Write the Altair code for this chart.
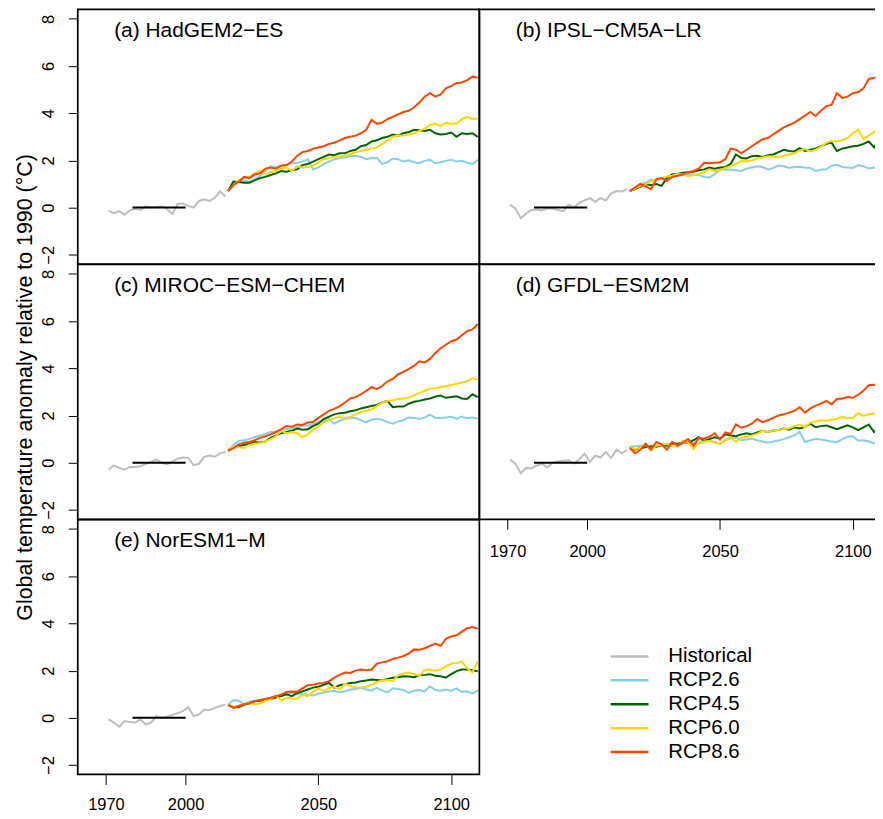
import altair as alt
import pandas as pd

# ---------------- data ----------------
HIST_YEARS = list(range(1971, 2016, 2))   # 23 points
RCP_YEARS = list(range(2016, 2111, 2))    # 48 points

MODELS = ["(a) HadGEM2\u2212ES", "(b) IPSL\u2212CM5A\u2212LR", "(c) MIROC\u2212ESM\u2212CHEM",
          "(d) GFDL\u2212ESM2M", "(e) NorESM1\u2212M"]
SCENARIOS = ["Historical", "RCP2.6", "RCP4.5", "RCP6.0", "RCP8.6"]
COLORS = ["#BEBEBE", "#87CEEB", "#006400", "#FFD700", "#FF4500"]
BASE_PERIOD = [1980, 2000]
Y_TICKS = [-2, 0, 2, 4, 6, 8]
X_TICKS = [1970, 2000, 2050, 2100]
Y_TITLE = "Global temperature anomaly relative to 1990 (\u00b0C)"

HAD_HIST = [-0.14, -0.24, -0.15, -0.30, -0.12, -0.05, -0.10, 0.05, 0.00, 0.03, 0.05, -0.05,
            -0.28, 0.15, 0.17, 0.07, 0.00, 0.28, 0.35, 0.28, 0.42, 0.68, 0.47]
HAD_26 = [0.70, 1.05, 1.10, 1.15, 1.10, 1.20, 1.35, 1.55,
          1.75, 1.72, 1.75, 1.80, 1.88, 1.90, 1.95, 2.05,
          1.62, 1.70, 1.85, 1.95, 2.05, 2.10, 2.12, 2.18,
          2.20, 2.15, 2.05, 2.10, 2.10, 1.85, 1.92, 2.08,
          2.05, 1.95, 2.00, 1.92, 1.88, 1.98, 2.02, 1.88,
          1.92, 1.98, 2.03, 1.95, 1.98, 1.90, 1.85, 2.02]
HAD_45 = [0.70, 1.10, 1.08, 1.05, 1.05, 1.15, 1.25, 1.30,
          1.38, 1.45, 1.55, 1.52, 1.58, 1.62, 1.80, 1.85,
          1.95, 2.05, 2.15, 2.25, 2.22, 2.30, 2.30, 2.40,
          2.45, 2.60, 2.65, 2.80, 2.85, 2.95, 3.00, 3.10,
          3.05, 3.15, 3.20, 3.30, 3.28, 3.25, 3.30, 3.15,
          3.10, 3.12, 3.18, 3.00, 3.15, 3.12, 3.15, 3.00]
HAD_60 = [0.70, 0.95, 1.15, 1.25, 1.30, 1.45, 1.55, 1.40,
          1.50, 1.55, 1.65, 1.70, 1.55, 1.75, 1.70, 1.72,
          1.78, 1.90, 2.05, 2.10, 2.15, 2.15, 2.20, 2.25,
          2.35, 2.40, 2.45, 2.50, 2.55, 2.70, 2.85, 3.00,
          3.05, 3.05, 3.10, 3.15, 3.25, 3.35, 3.50, 3.55,
          3.45, 3.60, 3.55, 3.55, 3.75, 3.85, 3.75, 3.78]
HAD_85 = [0.70, 0.95, 1.10, 1.30, 1.25, 1.40, 1.45, 1.65,
          1.70, 1.65, 1.78, 1.80, 1.95, 2.20, 2.35, 2.40,
          2.50, 2.55, 2.60, 2.70, 2.75, 2.85, 2.95, 3.00,
          3.05, 3.15, 3.30, 3.72, 3.55, 3.60, 3.75, 3.85,
          3.95, 4.05, 4.10, 4.25, 4.45, 4.70, 4.85, 4.70,
          4.80, 5.05, 5.15, 5.28, 5.30, 5.40, 5.55, 5.50]

IPSL_HIST = [0.12, -0.05, -0.45, -0.25, -0.10, -0.08, -0.12, -0.03, -0.05, -0.10, -0.15, 0.12,
             0.00, 0.20, 0.30, 0.40, 0.25, 0.40, 0.30, 0.60, 0.70, 0.68, 0.78]
IPSL_26 = [0.70, 0.85, 1.00, 1.05, 1.20, 1.15, 1.22, 1.25,
           1.40, 1.35, 1.38, 1.42, 1.40, 1.38, 1.30, 1.28,
           1.42, 1.60, 1.62, 1.60, 1.58, 1.55, 1.65, 1.70,
           1.75, 1.72, 1.62, 1.68, 1.78, 1.75, 1.68, 1.72,
           1.72, 1.70, 1.68, 1.55, 1.60, 1.62, 1.78, 1.82,
           1.72, 1.70, 1.68, 1.80, 1.75, 1.66, 1.70, 1.62]
IPSL_45 = [0.70, 0.78, 0.88, 1.00, 0.95, 1.00, 0.92, 1.25,
           1.40, 1.42, 1.48, 1.50, 1.52, 1.58, 1.62, 1.70,
           1.65, 1.70, 1.72, 1.85, 2.25, 2.10, 2.08, 2.18,
           2.20, 2.15, 2.22, 2.25, 2.35, 2.45, 2.40, 2.38,
           2.52, 2.40, 2.45, 2.50, 2.60, 2.70, 2.75, 2.40,
           2.50, 2.55, 2.60, 2.62, 2.70, 2.80, 2.55, 2.95]
IPSL_60 = [0.70, 0.80, 0.92, 1.00, 1.10, 1.20, 1.25, 1.32,
           1.35, 1.42, 1.40, 1.33, 1.38, 1.42, 1.50, 1.62,
           1.55, 1.58, 1.68, 1.75, 1.85, 1.97, 1.95, 2.00,
           2.08, 2.12, 2.18, 2.15, 2.12, 2.20, 2.25, 2.30,
           2.42, 2.48, 2.38, 2.45, 2.58, 2.75, 2.82, 2.80,
           2.85, 2.95, 3.15, 3.30, 2.90, 3.05, 3.20, 3.38]
IPSL_85 = [0.70, 0.85, 1.00, 0.90, 0.78, 1.20, 1.25, 1.12,
           1.30, 1.35, 1.40, 1.50, 1.55, 1.65, 1.90, 1.88,
           1.90, 1.92, 2.05, 2.50, 2.45, 2.30, 2.45, 2.60,
           2.75, 2.90, 2.95, 3.10, 3.25, 3.40, 3.50, 3.60,
           3.75, 3.90, 4.05, 3.88, 4.10, 4.30, 4.35, 4.85,
           4.65, 4.70, 4.85, 4.90, 5.05, 5.45, 5.50, 5.58]

MIROC_HIST = [-0.30, -0.12, -0.22, -0.30, -0.18, -0.18, -0.15, -0.05, 0.03, 0.13, 0.00, -0.06,
              0.05, 0.17, 0.22, 0.20, -0.10, -0.05, 0.25, 0.30, 0.25, 0.40, 0.45]
MIROC_26 = [0.52, 0.75, 0.92, 0.95, 1.00, 1.08, 1.15, 1.22,
            1.30, 1.32, 1.38, 1.42, 1.45, 1.50, 1.55, 1.58,
            1.62, 1.72, 1.80, 1.86, 1.65, 1.78, 1.86, 1.88,
            1.90, 1.80, 1.72, 1.82, 1.86, 1.82, 1.72, 1.65,
            1.75, 1.80, 1.92, 1.90, 1.85, 1.92, 2.04, 1.90,
            1.88, 1.92, 1.95, 1.86, 1.96, 1.88, 1.92, 1.86]
MIROC_45 = [0.52, 0.65, 0.70, 0.75, 0.80, 0.88, 0.85, 0.90,
            1.05, 1.15, 1.25, 1.30, 1.35, 1.45, 1.40, 1.42,
            1.55, 1.65, 1.85, 1.95, 2.05, 2.10, 2.12, 2.18,
            2.22, 2.30, 2.35, 2.40, 2.45, 2.55, 2.62, 2.35,
            2.38, 2.38, 2.50, 2.58, 2.62, 2.68, 2.72, 2.80,
            2.85, 2.75, 2.78, 2.82, 2.72, 2.70, 2.90, 2.78]
MIROC_60 = [0.48, 0.70, 0.65, 0.62, 0.75, 0.80, 0.82, 0.90,
            1.00, 1.12, 1.35, 1.25, 1.30, 1.25, 1.08, 1.20,
            1.40, 1.55, 1.72, 1.82, 1.88, 1.95, 1.90, 1.93,
            2.05, 2.15, 2.20, 2.25, 2.40, 2.55, 2.62, 2.65,
            2.70, 2.72, 2.75, 2.85, 2.95, 3.05, 3.15, 3.15,
            3.20, 3.25, 3.28, 3.35, 3.40, 3.45, 3.58, 3.52]
MIROC_85 = [0.50, 0.62, 0.78, 0.85, 0.88, 0.95, 1.05, 1.12,
            1.20, 1.30, 1.42, 1.55, 1.52, 1.62, 1.60, 1.70,
            1.72, 1.90, 2.05, 2.20, 2.28, 2.40, 2.55, 2.72,
            2.78, 2.90, 3.05, 3.20, 3.12, 3.25, 3.45, 3.55,
            3.75, 3.85, 3.98, 4.10, 4.30, 4.25, 4.40, 4.65,
            4.85, 5.00, 5.15, 5.22, 5.40, 5.58, 5.65, 5.88]

GFDL_HIST = [0.14, -0.05, -0.45, -0.22, -0.24, -0.12, -0.05, -0.20, 0.00, 0.05, 0.08, 0.10,
             -0.04, 0.15, 0.38, 0.03, 0.30, 0.22, 0.45, 0.20, 0.55, 0.40, 0.55]
GFDL_26 = [0.68, 0.70, 0.72, 0.74, 0.65, 0.68, 0.72, 0.75,
           0.80, 0.78, 0.85, 0.88, 0.82, 0.80, 0.88, 0.94,
           0.85, 0.80, 0.95, 1.02, 1.08, 0.95, 0.98, 1.02,
           0.95, 0.90, 0.85, 0.90, 0.94, 1.00, 1.08, 1.15,
           1.30, 0.88, 0.95, 1.00, 0.98, 0.94, 0.90, 0.87,
           1.00, 1.10, 1.12, 0.94, 0.95, 0.90, 0.83, 0.97]
GFDL_45 = [0.65, 0.55, 0.62, 0.65, 0.70, 0.68, 0.75, 0.72,
           0.82, 0.80, 0.88, 0.85, 0.95, 1.08, 0.92, 1.00,
           1.08, 1.02, 1.20, 1.15, 1.12, 1.20, 1.25, 1.20,
           1.28, 1.35, 1.30, 1.36, 1.38, 1.45, 1.40, 1.50,
           1.45, 1.52, 1.65, 1.50, 1.55, 1.58, 1.50, 1.42,
           1.50, 1.58, 1.50, 1.38, 1.50, 1.62, 1.30, 1.48]
GFDL_60 = [0.65, 0.58, 0.62, 0.80, 0.52, 0.72, 0.75, 0.80,
           0.70, 0.68, 0.92, 0.85, 0.58, 0.85, 0.90, 0.92,
           0.88, 0.80, 0.95, 1.08, 0.88, 1.05, 1.10, 1.15,
           1.22, 1.35, 1.30, 1.36, 1.38, 1.43, 1.45, 1.55,
           1.62, 1.50, 1.70, 1.75, 1.80, 1.78, 1.82, 1.85,
           1.95, 1.88, 1.90, 2.10, 1.98, 2.05, 2.08, 2.07]
GFDL_85 = [0.62, 0.40, 0.55, 0.80, 0.55, 0.88, 0.78, 0.55,
           0.88, 0.72, 0.85, 1.00, 0.72, 1.05, 1.02, 1.10,
           1.25, 0.98, 1.28, 1.22, 1.62, 1.48, 1.55, 1.65,
           1.85, 1.72, 1.80, 1.90, 2.00, 2.05, 2.12, 2.20,
           2.35, 2.12, 2.30, 2.42, 2.50, 2.62, 2.48, 2.70,
           2.72, 2.78, 2.75, 2.88, 3.05, 3.28, 3.30, 3.28]

NOR_HIST = [-0.07, -0.20, -0.38, -0.14, -0.18, -0.20, -0.07, -0.28, -0.20, 0.07, 0.00, 0.05,
            0.12, 0.20, 0.28, 0.45, 0.07, 0.14, 0.35, 0.32, 0.42, 0.50, 0.56]
NOR_26 = [0.55, 0.75, 0.72, 0.57, 0.68, 0.72, 0.76, 0.80,
          0.84, 0.90, 0.98, 1.02, 1.06, 1.00, 1.03, 0.98,
          0.95, 1.02, 1.06, 1.12, 1.15, 1.08, 1.12, 1.20,
          1.22, 1.28, 1.20, 1.15, 1.28, 1.15, 1.08, 1.25,
          1.22, 1.18, 1.06, 1.15, 1.18, 1.12, 1.34, 1.18,
          1.15, 1.20, 1.15, 1.25, 1.10, 1.12, 1.03, 1.16]
NOR_45 = [0.55, 0.45, 0.45, 0.55, 0.62, 0.70, 0.72, 0.78,
          0.80, 0.86, 0.92, 1.00, 0.92, 1.05, 1.12, 1.20,
          1.28, 1.32, 1.40, 1.48, 1.28, 1.38, 1.42, 1.48,
          1.50, 1.55, 1.58, 1.62, 1.60, 1.58, 1.65, 1.70,
          1.72, 1.76, 1.75, 1.72, 1.80, 1.82, 1.85, 1.78,
          1.76, 1.70, 1.85, 1.98, 2.05, 2.05, 2.02, 1.97]
NOR_60 = [0.55, 0.48, 0.50, 0.58, 0.64, 0.57, 0.62, 0.72,
          0.80, 0.95, 0.72, 0.85, 0.82, 0.80, 0.98, 0.92,
          1.10, 1.25, 1.12, 1.25, 1.32, 1.20, 1.45, 1.35,
          1.30, 1.28, 1.32, 1.40, 1.52, 1.58, 1.60, 1.55,
          1.80, 1.88, 1.92, 1.85, 1.78, 2.02, 2.05, 2.00,
          2.05, 2.18, 2.30, 2.32, 2.38, 2.10, 1.92, 2.40]
NOR_85 = [0.55, 0.42, 0.50, 0.58, 0.62, 0.70, 0.75, 0.80,
          0.85, 0.92, 0.98, 1.10, 1.12, 1.10, 1.25, 1.38,
          1.40, 1.45, 1.48, 1.55, 1.70, 1.82, 1.92, 1.90,
          2.00, 2.05, 2.02, 2.05, 2.30, 2.35, 2.40, 2.50,
          2.55, 2.62, 2.72, 2.90, 2.88, 2.95, 3.05, 3.15,
          3.05, 3.35, 3.45, 3.50, 3.65, 3.80, 3.85, 3.77]

PANEL_DATA = [
    (HAD_HIST, HAD_26, HAD_45, HAD_60, HAD_85),
    (IPSL_HIST, IPSL_26, IPSL_45, IPSL_60, IPSL_85),
    (MIROC_HIST, MIROC_26, MIROC_45, MIROC_60, MIROC_85),
    (GFDL_HIST, GFDL_26, GFDL_45, GFDL_60, GFDL_85),
    (NOR_HIST, NOR_26, NOR_45, NOR_60, NOR_85),
]

# ---------------- styling ----------------
FONT = "Liberation Sans"
X_DOMAIN = [1959.4, 2110.6]
Y_DOMAIN = [-2.4, 8.4]
W, H = 403, 255.7


def build_df(series):
    rows = []
    for yr, v in zip(HIST_YEARS, series[0]):
        rows.append({"year": yr, "value": v, "scenario": SCENARIOS[0]})
    for name, vals in zip(SCENARIOS[1:], series[1:]):
        for yr, v in zip(RCP_YEARS, vals):
            rows.append({"year": yr, "value": v, "scenario": name})
    return pd.DataFrame(rows)


def make_panel(i):
    df = build_df(PANEL_DATA[i])
    show_y = i in (0, 2, 4)
    show_x = i in (3, 4)

    if show_x:
        x_axis = alt.Axis(values=X_TICKS, format="d", tickSize=10, tickColor="black",
                          tickWidth=1, labelPadding=27 if i == 3 else 25,
                          labelBaseline="alphabetic",
                          labelFontSize=16.5, labelColor="black", labelFont=FONT,
                          title=None, domain=False, grid=False, labelFlush=False,
                          labelOverlap=False)
    else:
        x_axis = None

    if show_y:
        ykw = dict(values=Y_TICKS, tickSize=9.5, tickColor="black", tickWidth=1,
                   labelAngle=270, labelAlign="center", labelBaseline="alphabetic",
                   labelPadding=14.5, labelFontSize=16.5, labelColor="black",
                   labelFont=FONT, domain=False, grid=False, labelOverlap=False,
                   labelFlush=False)
        if i == 2:
            y_axis = alt.Axis(title=Y_TITLE, titleX=-46, titleY=H / 2 - 5,
                              titleAngle=270, titleAlign="center",
                              titleBaseline="alphabetic", titleFontSize=21.5,
                              titleFontWeight="normal", titleFont=FONT,
                              titleColor="black", **ykw)
        else:
            y_axis = alt.Axis(title=None, **ykw)
    else:
        y_axis = None

    xs = alt.Scale(domain=X_DOMAIN, nice=False, zero=False)
    ys = alt.Scale(domain=Y_DOMAIN, nice=False, zero=False)

    if i == 4:
        legend = alt.Legend(title=None, orient="none", legendX=543.5, legendY=127,
                            direction="vertical", symbolType="M-4,0H4",
                            symbolSize=90, symbolStrokeWidth=2.5,
                            labelFontSize=20.5, labelFont=FONT, labelColor="black",
                            labelOffset=28.5, rowPadding=3.0, padding=0)
    else:
        legend = None

    lines = alt.Chart(df).mark_line(strokeWidth=2).encode(
        x=alt.X("year:Q", scale=xs, axis=x_axis),
        y=alt.Y("value:Q", scale=ys, axis=y_axis),
        color=alt.Color("scenario:N",
                        scale=alt.Scale(domain=SCENARIOS, range=COLORS),
                        legend=legend),
    )

    base_df = pd.DataFrame({"year": [BASE_PERIOD[0]], "year_end": [BASE_PERIOD[1]],
                            "value": [0]})
    base = alt.Chart(base_df).mark_rule(color="black", strokeWidth=2).encode(
        x=alt.X("year:Q", scale=xs, axis=x_axis),
        x2="year_end:Q",
        y=alt.Y("value:Q", scale=ys, axis=y_axis),
    )

    lab_df = pd.DataFrame({"label": [MODELS[i]]})
    label = alt.Chart(lab_df).mark_text(align="left", baseline="alphabetic",
                                        fontSize=21, font=FONT, color="black").encode(
        x=alt.value(36.5), y=alt.value(27.5), text="label:N")

    return alt.layer(lines, base, label).properties(width=W, height=H)


panels = [make_panel(i) for i in range(5)]

chart = (
    alt.concat(*panels, columns=2, spacing=0, bounds="flush")
    .resolve_scale(color="independent")
    .resolve_legend(color="independent")
    .properties(padding={"left": 6, "top": -1, "right": -10, "bottom": -3.5})
    .configure(font=FONT)
    .configure_view(stroke="black", strokeWidth=1.7)
)

chart.save("out.html", embed_options={"renderer": "svg", "actions": False})
